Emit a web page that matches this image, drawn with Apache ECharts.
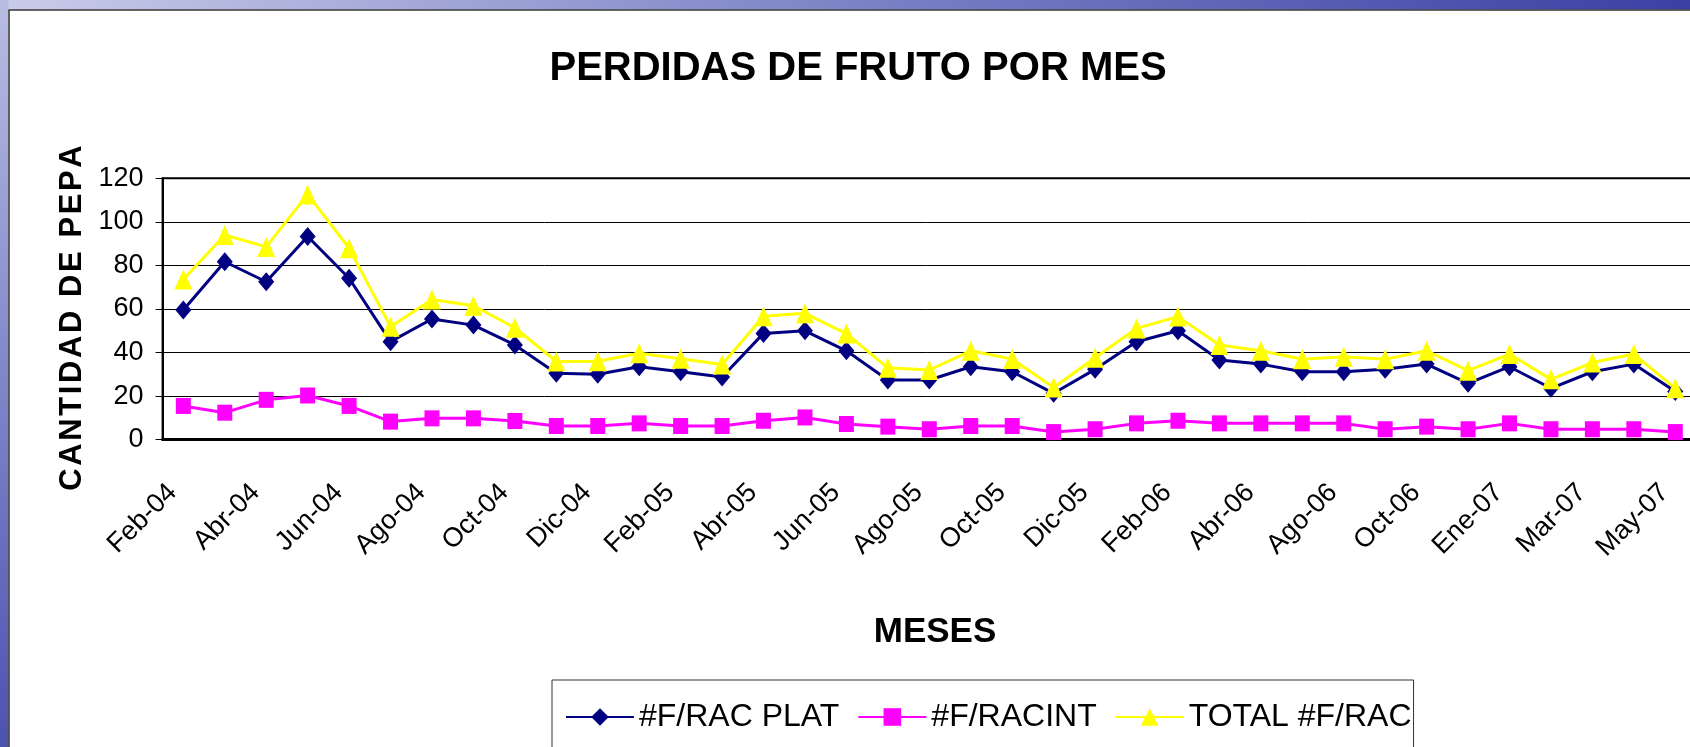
<!DOCTYPE html>
<html>
<head>
<meta charset="utf-8">
<title>Perdidas de fruto por mes</title>
<script src="https://cdn.jsdelivr.net/npm/echarts@6/dist/echarts.min.js"></script>
<style>
html, body { margin: 0; padding: 0; background: #fff; }
#main { width: 1690px; height: 747px; }
</style>
</head>
<body>
<div id="main"></div>
<script>
// meses (solo se muestran uno si, uno no)
var meses = ['Feb-04', 'Mar-04', 'Abr-04', 'May-04', 'Jun-04', 'Jul-04', 'Ago-04', 'Sep-04', 'Oct-04', 'Nov-04',
    'Dic-04', 'Ene-05', 'Feb-05', 'Mar-05', 'Abr-05', 'May-05', 'Jun-05', 'Jul-05', 'Ago-05', 'Sep-05',
    'Oct-05', 'Nov-05', 'Dic-05', 'Ene-06', 'Feb-06', 'Mar-06', 'Abr-06', 'Jul-06', 'Ago-06', 'Sep-06',
    'Oct-06', 'Nov-06', 'Ene-07', 'Feb-07', 'Mar-07', 'Abr-07', 'May-07'];

var racPlat = [59.5, 81.7, 72.5, 93.3, 74.1, 45.0, 55.4, 52.6, 43.5, 30.5,
    30.0, 33.5, 31.2, 28.8, 48.8, 50.0, 40.8, 27.4, 27.4, 33.5,
    31.2, 21.3, 32.3, 45.0, 50.0, 36.6, 34.7, 31.2, 31.2, 32.3,
    34.7, 25.9, 33.5, 23.6, 31.2, 34.7, 22.1];

var racInt = [15.5, 12.4, 18.3, 20.3, 15.5, 8.3, 9.8, 9.8, 8.6, 6.3,
    6.3, 7.5, 6.3, 6.3, 8.7, 10.2, 7.2, 6.0, 4.8, 6.3,
    6.3, 3.5, 4.8, 7.5, 8.7, 7.5, 7.5, 7.5, 7.5, 4.8,
    6.0, 4.8, 7.5, 4.8, 4.8, 4.8, 3.5];

var racTotal = [73.5, 94.0, 88.5, 112.6, 87.9, 51.9, 64.4, 61.5, 51.4, 35.9,
    36.0, 39.7, 37.2, 34.5, 56.7, 58.0, 48.7, 33.0, 32.0, 40.8,
    37.0, 24.0, 37.6, 51.1, 56.5, 43.5, 40.8, 36.9, 38.1, 36.9,
    40.8, 31.7, 39.3, 27.7, 35.4, 39.3, 23.6];

var yTicks = { min: 0, max: 120, step: 20 };

var font = "'Liberation Sans', Arial, Helvetica, sans-serif";
// letras separadas del titulo vertical
var yName = 'CANTIDAD DE PEPA'.split('').join('\u200A');

var myChart = echarts.init(document.getElementById('main'));

var option = {
    backgroundColor: '#fff',
    animation: false,
    title: {
        text: 'PERDIDAS DE FRUTO POR MES',
        left: 858,
        top: 49,
        padding: 0,
        textAlign: 'center',
        textStyle: {
            fontFamily: font,
            fontSize: 40,
            fontWeight: 'bold',
            color: '#000'
        }
    },
    legend: {
        left: 552,
        top: 680,
        padding: [21, 2, 21, 13],
        itemGap: 18,
        itemWidth: 68,
        itemHeight: 22,
        borderColor: '#333',
        borderWidth: 1,
        backgroundColor: '#fff',
        textStyle: {
            fontFamily: font,
            fontSize: 32,
            color: '#000'
        }
    },
    grid: {
        left: 162.6,
        top: 178.3,
        right: -6,
        bottom: 307.3,
        outerBoundsMode: 'none',
        show: true,
        borderColor: '#000',
        borderWidth: 2
    },
    xAxis: {
        type: 'category',
        data: meses,
        boundaryGap: true,
        axisLine: { lineStyle: { color: '#000', width: 3 } },
        axisTick: { interval: 0, length: 7, lineStyle: { color: '#000', width: 1 } },
        axisLabel: {
            interval: 1,
            rotate: 45,
            margin: 38,
            padding: [0, 15, 0, 0],
            fontFamily: font,
            fontSize: 27,
            color: '#000'
        },
        splitLine: { show: false }
    },
    yAxis: {
        type: 'value',
        min: yTicks.min,
        max: yTicks.max,
        interval: yTicks.step,
        axisLine: { show: true, lineStyle: { color: '#000', width: 2 } },
        axisTick: { show: true, length: 7, lineStyle: { color: '#000', width: 1 } },
        axisLabel: {
            margin: 19,
            fontFamily: font,
            fontSize: 27,
            color: '#000'
        },
        splitLine: { lineStyle: { color: '#000', width: 1 } }
    },
    graphic: [{
        type: 'rect',
        silent: true,
        shape: { x: 0, y: 0, width: 1690, height: 9.5 },
        style: {
            fill: new echarts.graphic.LinearGradient(0, 0, 1, 0, [
                { offset: 0, color: '#c9cce9' },
                { offset: 0.5, color: '#7d83c6' },
                { offset: 1, color: '#3b40a4' }
            ])
        }
    }, {
        type: 'rect',
        silent: true,
        shape: { x: 0, y: 0, width: 8.5, height: 747 },
        style: {
            fill: new echarts.graphic.LinearGradient(0, 0, 0, 1, [
                { offset: 0, color: '#b9bde2' },
                { offset: 0.5, color: '#8087c9' },
                { offset: 1, color: '#4c52b0' }
            ])
        }
    }, {
        type: 'line',
        silent: true,
        shape: { x1: 8.5, y1: 10, x2: 1690, y2: 10 },
        style: { stroke: '#333', lineWidth: 1.5 }
    }, {
        type: 'line',
        silent: true,
        shape: { x1: 9, y1: 10, x2: 9, y2: 747 },
        style: { stroke: '#333', lineWidth: 1.5 }
    }, {
        type: 'text',
        x: 72,
        y: 318,
        rotation: Math.PI / 2,
        style: {
            text: yName,
            fontFamily: font,
            fontSize: 31,
            fontWeight: 'bold',
            fill: '#000',
            align: 'center',
            verticalAlign: 'middle'
        }
    }, {
        type: 'text',
        x: 935,
        y: 632,
        style: {
            text: 'MESES',
            fontFamily: font,
            fontSize: 35,
            fontWeight: 'bold',
            fill: '#000',
            align: 'center',
            verticalAlign: 'middle'
        }
    }],
    series: [{
        name: '#F/RAC PLAT',
        type: 'line',
        data: racPlat,
        symbol: 'diamond',
        symbolSize: [16, 19],
        showAllSymbol: true,
        color: '#000080',
        lineStyle: { color: '#000080', width: 3 },
        itemStyle: { color: '#000080' }
    }, {
        name: '#F/RACINT',
        type: 'line',
        data: racInt,
        symbol: 'rect',
        symbolSize: [15, 16],
        showAllSymbol: true,
        color: '#ff00ff',
        lineStyle: { color: '#ff00ff', width: 3 },
        itemStyle: { color: '#ff00ff' }
    }, {
        name: 'TOTAL #F/RAC',
        type: 'line',
        data: racTotal,
        symbol: 'triangle',
        symbolSize: [18, 20],
        showAllSymbol: true,
        color: '#ffff00',
        lineStyle: { color: '#ffff00', width: 3 },
        itemStyle: { color: '#ffff00' }
    }]
};

myChart.setOption(option);
</script>
</body>
</html>
